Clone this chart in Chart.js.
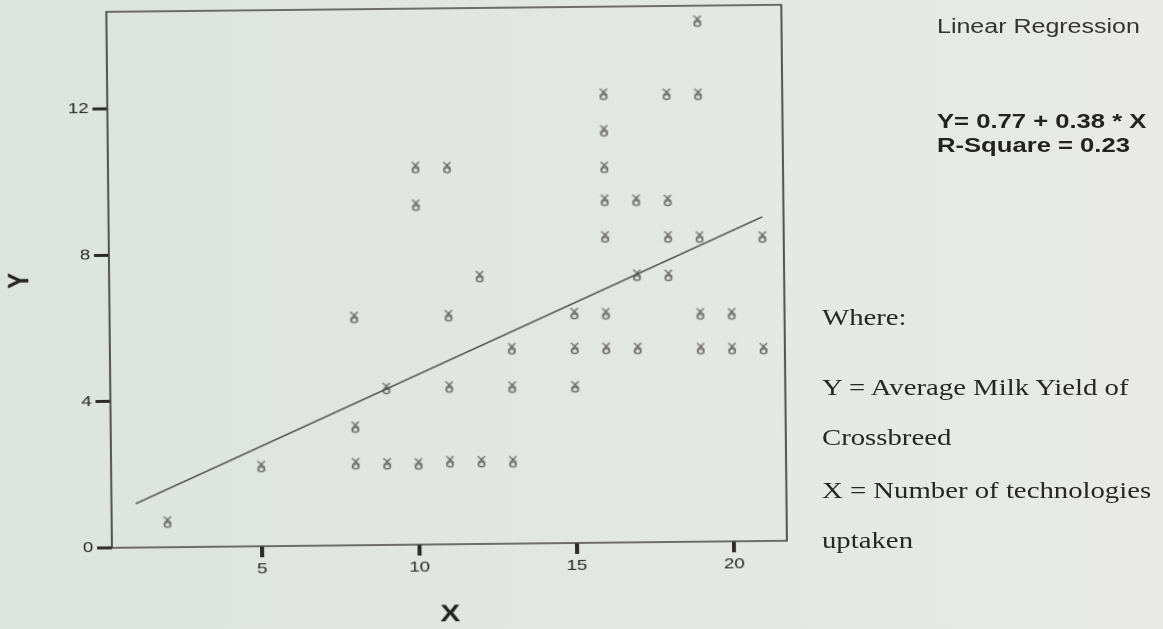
<!DOCTYPE html>
<html>
<head>
<meta charset="utf-8">
<script src="https://cdn.jsdelivr.net/npm/chart.js@4/dist/chart.umd.min.js"></script>
<style>
  html, body { margin: 0; padding: 0; width: 1163px; height: 629px; overflow: hidden; }
  body { background: linear-gradient(to right, #dde3df 0%, #e3e7e3 55%, #e9eae7 100%); }
  #plot { position: absolute; left: 0; top: 0; width: 931px; height: 640px;
          transform-origin: 0 548px; transform: rotate(-0.6deg) scaleX(1.25); }
  #notes { position: absolute; left: 0; top: 0; width: 931px; height: 629px;
           transform-origin: 0 0; transform: scaleX(1.25); }
  .t { position: absolute; white-space: nowrap; line-height: 1; }
  .sans { font-family: "Liberation Sans", Arial, sans-serif; }
  .serif { font-family: "Liberation Serif", "Times New Roman", serif; color: #262626; font-size: 23px; }
</style>
</head>
<body>
<div id="plot"><canvas id="scatterChart" width="931" height="640"></canvas></div>
<div id="notes">
  <div class="t sans" style="left:749.6px; top:16px; font-size:20px; color:#333;">Linear Regression</div>
  <div class="t sans" style="left:749.6px; top:110.5px; font-size:20.5px; font-weight:bold; color:#222;">Y= 0.77 + 0.38 * X</div>
  <div class="t sans" style="left:749.6px; top:134.5px; font-size:20.5px; font-weight:bold; color:#222;">R-Square = 0.23</div>
  <div class="t serif" style="left:657.6px; top:305.7px;">Where:</div>
  <div class="t serif" style="left:657.6px; top:375.7px;">Y = Average Milk Yield of</div>
  <div class="t serif" style="left:657.6px; top:425.7px;">Crossbreed</div>
  <div class="t serif" style="left:657.6px; top:478.7px;">X = Number of technologies</div>
  <div class="t serif" style="left:657.6px; top:528.7px;">uptaken</div>
</div>
<script>
// technologies taken up (X) and average milk yield (Y)
const xValues = [2, 5, 8, 8, 8, 9, 9, 10, 10, 10, 11, 11, 11, 11, 12, 12, 13, 13, 13,
    15, 15, 15, 16, 16, 16, 16, 16, 16, 16, 17, 17, 17, 18, 18, 18, 18,
    19, 19, 19, 19, 19, 20, 20, 21, 21];
const yValues = [0.69, 2.18, 6.23, 3.23, 2.23, 4.28, 2.22, 10.31, 9.28, 2.21,
    10.3, 6.25, 4.3, 2.26, 7.31, 2.25, 5.33, 4.28, 2.24,
    6.27, 5.32, 4.27, 12.26, 11.26, 10.26, 9.36, 8.36, 6.26, 5.31,
    9.35, 7.3, 5.3, 12.24, 9.34, 8.34, 7.29,
    14.23, 12.23, 8.33, 6.23, 5.28, 6.22, 5.27, 8.31, 5.26];

// fitted line end points
const fitX = [1, 21];
const fitY = [1.2, 8.86];

const xTicks = [5, 10, 15, 20];
const yTicks = [0, 4, 8, 12];

const points = xValues.map((x, i) => ({ x: x, y: yValues[i] }));
const fitLine = fitX.map((x, i) => ({ x: x, y: fitY[i] }));

// little SPSS style marker
const marker = document.createElement('canvas');
marker.width = 8;
marker.height = 13;
const mc = marker.getContext('2d');
mc.strokeStyle = '#4a4a4a';
mc.lineWidth = 1.1;
mc.beginPath();
mc.moveTo(1, 1); mc.lineTo(6.8, 7.5);
mc.moveTo(6.8, 1); mc.lineTo(1.6, 7.5);
mc.stroke();
mc.beginPath();
mc.arc(4, 9.3, 2.5, 0, Math.PI * 2);
mc.stroke();

const frame = {
    id: 'frame',
    afterDatasetsDraw(chart) {
        const a = chart.chartArea;
        const ctx = chart.ctx;
        ctx.save();
        ctx.strokeStyle = '#444';
        ctx.lineWidth = 1.5;
        ctx.strokeRect(a.left, a.top, a.right - a.left, a.bottom - a.top);
        ctx.restore();
    }
};

const font = { family: '"Liberation Sans", Arial, sans-serif', size: 15 };

new Chart(document.getElementById('scatterChart'), {
    type: 'scatter',
    data: {
        datasets: [{
            data: points,
            pointStyle: marker,
        }, {
            type: 'line',
            data: fitLine,
            borderColor: '#4d4d4d',
            borderWidth: 1.4,
            pointRadius: 0,
            fill: false,
        }],
    },
    options: {
        responsive: false,
        devicePixelRatio: 2,
        animation: false,
        layout: { padding: { left: 0, top: 13, right: 301.4, bottom: 0 } },
        plugins: {
            legend: { display: false },
            tooltip: { enabled: false },
        },
        scales: {
            x: {
                type: 'linear',
                min: 0.23,
                max: 21.68,
                afterBuildTicks: (scale) => { scale.ticks = xTicks.map(v => ({ value: v })); },
                afterFit: (scale) => { scale.height = 91; },
                ticks: { font: font, color: '#2a2a2a', padding: 3, maxRotation: 0 },
                grid: { drawOnChartArea: false, drawTicks: true, tickLength: 11, lineWidth: 3.2, color: '#2a2a2a' },
                border: { display: false },
                title: {
                    display: true,
                    text: 'X',
                    font: { family: '"Liberation Sans", Arial, sans-serif', size: 24, weight: 'bold' },
                    color: '#222',
                    padding: 6,
                },
            },
            y: {
                type: 'linear',
                min: 0,
                max: 14.65,
                afterBuildTicks: (scale) => { scale.ticks = yTicks.map(v => ({ value: v })); },
                afterFit: (scale) => { scale.width = 89.6; },
                ticks: { font: font, color: '#2a2a2a', padding: 3 },
                grid: { drawOnChartArea: false, drawTicks: true, tickLength: 12, lineWidth: 3, color: '#2a2a2a' },
                border: { display: false },
                title: {
                    display: true,
                    text: 'Y',
                    font: { family: '"Liberation Sans", Arial, sans-serif', size: 24, weight: 'bold' },
                    color: '#222',
                    padding: 4,
                },
            },
        },
    },
    plugins: [frame],
});
</script>
</body>
</html>
